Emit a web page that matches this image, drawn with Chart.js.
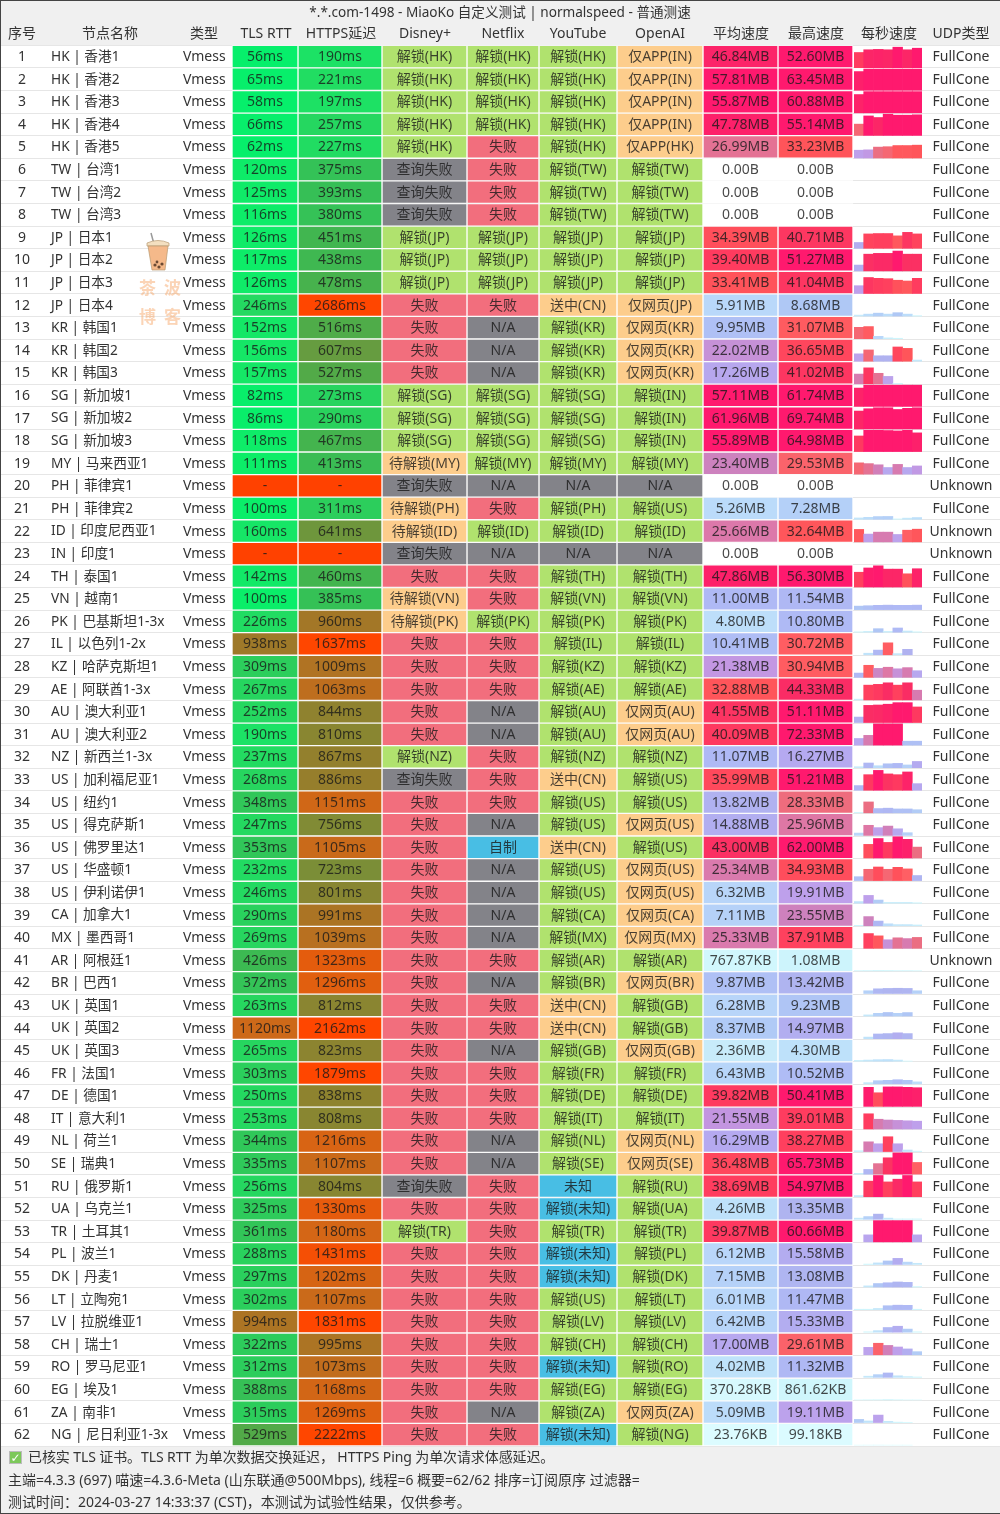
<!DOCTYPE html>
<html>
<head>
<meta charset="utf-8">
<title>MiaoKo normalspeed</title>
<script src="https://cdn.jsdelivr.net/npm/chart.js@4/dist/chart.umd.min.js"></script>
<style>
  html, body { margin: 0; padding: 0; background: #f0f0f0; }
  #page { position: relative; width: 1000px; height: 1514px; overflow: hidden; font-family: "Noto Sans", "Noto Sans CJK SC", sans-serif; color: #333; filter: blur(0.3px); }
  #page canvas { position: absolute; }
  #tableChart { left: 0; top: 0; }
  #speedChart { left: 854px; top: 46px; }
  .foot { position: absolute; left: 8px; font-size: 14px; line-height: 20px; white-space: nowrap; }
  .check { position: absolute; left: 9px; top: 1451px; width: 13px; height: 13px; background: #7cc85a; border: 1px solid #bbb; box-sizing: border-box; color: #fff; font: bold 12px/12px "DejaVu Sans"; text-align: center; }
  .stamp { position: absolute; font-size: 17px; font-weight: 700; line-height: 20px; color: rgba(248,170,110,.5); }
  #cup { position: absolute; left: 146px; top: 232px; }
  #frame { position: absolute; inset: 0; border: 1px solid #444; border-right: 0; box-sizing: border-box; pointer-events: none; }
</style>
</head>
<body>
<div id="page">
  <canvas id="tableChart" width="1000" height="1514"></canvas>
  <canvas id="speedChart" width="68" height="1400"></canvas>
  <svg id="cup" width="25" height="40" viewBox="0 0 25 40">
    <path d="M5 1 L8 12" stroke="#999" stroke-width="1.5" fill="none"/>
    <path d="M1 11 Q12 6 23 11 L23 14 L1 14 Z" fill="#f3dfc0" stroke="#b89a70" stroke-width=".7"/>
    <path d="M2 14 L22 14 L19 38 L6 38 Z" fill="#f5b98a" stroke="#b89a70" stroke-width=".7"/>
    <circle cx="9" cy="33" r="1.6" fill="#6b4a33"/><circle cx="13" cy="35" r="1.6" fill="#6b4a33"/><circle cx="16" cy="32" r="1.6" fill="#6b4a33"/><circle cx="11" cy="30" r="1.4" fill="#6b4a33"/>
  </svg>
  <span class="stamp" style="left:139px;top:278px">茶</span>
  <span class="stamp" style="left:164px;top:278px">波</span>
  <span class="stamp" style="left:139px;top:307px">博</span>
  <span class="stamp" style="left:164px;top:307px">客</span>
  <div class="check">✓</div>
  <div class="foot" style="left:28px;top:1447px;letter-spacing:-0.1px">已核实 TLS 证书。TLS RTT 为单次数据交换延迟， HTTPS Ping 为单次请求体感延迟。</div>
  <div class="foot" style="top:1470px">主端=4.3.3 (697) 喵速=4.3.6-Meta (山东联通@500Mbps), 线程=6 概要=62/62 排序=订阅原序 过滤器=</div>
  <div class="foot" style="top:1492px">测试时间：2024-03-27 14:33:37 (CST)，本测试为试验性结果，仅供参考。</div>
  <div id="frame"></div>
</div>
<script>
var chartTitle = '*.*.com-1498 - MiaoKo 自定义测试 | normalspeed - 普通测速';
var headers = ['序号', '节点名称', '类型', 'TLS RTT', 'HTTPS延迟', 'Disney+', 'Netflix', 'YouTube', 'OpenAI', '平均速度', '最高速度', '每秒速度', 'UDP类型'];

var nodeNames = [
  'HK | 香港1', 'HK | 香港2', 'HK | 香港3', 'HK | 香港4', 'HK | 香港5', 'TW | 台湾1', 'TW | 台湾2', 'TW | 台湾3',
  'JP | 日本1', 'JP | 日本2', 'JP | 日本3', 'JP | 日本4', 'KR | 韩国1', 'KR | 韩国2', 'KR | 韩国3',
  'SG | 新加坡1', 'SG | 新加坡2', 'SG | 新加坡3', 'MY | 马来西亚1', 'PH | 菲律宾1', 'PH | 菲律宾2', 'ID | 印度尼西亚1',
  'IN | 印度1', 'TH | 泰国1', 'VN | 越南1', 'PK | 巴基斯坦1-3x', 'IL | 以色列1-2x', 'KZ | 哈萨克斯坦1', 'AE | 阿联酋1-3x',
  'AU | 澳大利亚1', 'AU | 澳大利亚2', 'NZ | 新西兰1-3x', 'US | 加利福尼亚1', 'US | 纽约1', 'US | 得克萨斯1', 'US | 佛罗里达1',
  'US | 华盛顿1', 'US | 伊利诺伊1', 'CA | 加拿大1', 'MX | 墨西哥1', 'AR | 阿根廷1', 'BR | 巴西1', 'UK | 英国1', 'UK | 英国2',
  'UK | 英国3', 'FR | 法国1', 'DE | 德国1', 'IT | 意大利1', 'NL | 荷兰1', 'SE | 瑞典1', 'RU | 俄罗斯1', 'UA | 乌克兰1',
  'TR | 土耳其1', 'PL | 波兰1', 'DK | 丹麦1', 'LT | 立陶宛1', 'LV | 拉脱维亚1', 'CH | 瑞士1', 'RO | 罗马尼亚1', 'EG | 埃及1',
  'ZA | 南非1', 'NG | 尼日利亚1-3x'
];

// null = no result, drawn as "-"
var tlsRtt = [
  56, 65, 58, 66, 62, 120, 125, 116, 126, 117, 126, 246, 152, 156, 157, 82, 86, 118, 111, null, 100, 160, null, 142, 100, 226,
  938, 309, 267, 252, 190, 237, 268, 348, 247, 353, 232, 246, 290, 269, 426, 372, 263, 1120, 265, 303, 250, 253, 344, 335, 256,
  325, 361, 288, 297, 302, 994, 322, 312, 388, 315, 529
];
var httpsDelay = [
  190, 221, 197, 257, 227, 375, 393, 380, 451, 438, 478, 2686, 516, 607, 527, 273, 290, 467, 413, null, 311, 641, null, 460, 385, 960,
  1637, 1009, 1063, 844, 810, 867, 886, 1151, 756, 1105, 723, 801, 991, 1039, 1323, 1296, 812, 2162, 823, 1879, 838, 808, 1216, 1107, 804,
  1330, 1180, 1431, 1202, 1107, 1831, 995, 1073, 1168, 1269, 2222
];

var disney = [
  '解锁(HK)', '解锁(HK)', '解锁(HK)', '解锁(HK)', '解锁(HK)', '查询失败', '查询失败', '查询失败', '解锁(JP)', '解锁(JP)', '解锁(JP)',
  '失败', '失败', '失败', '失败', '解锁(SG)', '解锁(SG)', '解锁(SG)', '待解锁(MY)', '查询失败', '待解锁(PH)', '待解锁(ID)', '查询失败',
  '失败', '待解锁(VN)', '待解锁(PK)', '失败', '失败', '失败', '失败', '失败', '解锁(NZ)', '查询失败', '失败', '失败', '失败', '失败',
  '失败', '失败', '失败', '失败', '失败', '失败', '失败', '失败', '失败', '失败', '失败', '失败', '失败', '查询失败', '失败', '解锁(TR)',
  '失败', '失败', '失败', '失败', '失败', '失败', '失败', '失败', '失败'
];
var netflix = [
  '解锁(HK)', '解锁(HK)', '解锁(HK)', '解锁(HK)', '失败', '失败', '失败', '失败', '解锁(JP)', '解锁(JP)', '解锁(JP)', '失败',
  'N/A', 'N/A', 'N/A', '解锁(SG)', '解锁(SG)', '解锁(SG)', '解锁(MY)', 'N/A', '失败', '解锁(ID)', 'N/A', '失败', '失败', '解锁(PK)',
  '失败', '失败', '失败', 'N/A', 'N/A', '失败', '失败', '失败', 'N/A', '自制', 'N/A', 'N/A', 'N/A', 'N/A', '失败', 'N/A', '失败', '失败',
  'N/A', '失败', '失败', '失败', 'N/A', 'N/A', '失败', '失败', '失败', '失败', '失败', '失败', '失败', '失败', '失败', '失败', 'N/A', '失败'
];
var youtube = [
  '解锁(HK)', '解锁(HK)', '解锁(HK)', '解锁(HK)', '解锁(HK)', '解锁(TW)', '解锁(TW)', '解锁(TW)', '解锁(JP)', '解锁(JP)', '解锁(JP)',
  '送中(CN)', '解锁(KR)', '解锁(KR)', '解锁(KR)', '解锁(SG)', '解锁(SG)', '解锁(SG)', '解锁(MY)', 'N/A', '解锁(PH)', '解锁(ID)', 'N/A',
  '解锁(TH)', '解锁(VN)', '解锁(PK)', '解锁(IL)', '解锁(KZ)', '解锁(AE)', '解锁(AU)', '解锁(AU)', '解锁(NZ)', '送中(CN)', '解锁(US)',
  '解锁(US)', '送中(CN)', '解锁(US)', '解锁(US)', '解锁(CA)', '解锁(MX)', '解锁(AR)', '解锁(BR)', '送中(CN)', '送中(CN)', '解锁(GB)',
  '解锁(FR)', '解锁(DE)', '解锁(IT)', '解锁(NL)', '解锁(SE)', '未知', '解锁(未知)', '解锁(TR)', '解锁(未知)', '解锁(未知)', '解锁(US)',
  '解锁(LV)', '解锁(CH)', '解锁(未知)', '解锁(EG)', '解锁(ZA)', '解锁(未知)'
];
var openai = [
  '仅APP(IN)', '仅APP(IN)', '仅APP(IN)', '仅APP(IN)', '仅APP(HK)', '解锁(TW)', '解锁(TW)', '解锁(TW)', '解锁(JP)', '解锁(JP)', '解锁(JP)',
  '仅网页(JP)', '仅网页(KR)', '仅网页(KR)', '仅网页(KR)', '解锁(IN)', '解锁(IN)', '解锁(IN)', '解锁(MY)', 'N/A', '解锁(US)', '解锁(ID)', 'N/A',
  '解锁(TH)', '解锁(VN)', '解锁(PK)', '解锁(IL)', '解锁(KZ)', '解锁(AE)', '仅网页(AU)', '仅网页(AU)', '解锁(NZ)', '解锁(US)', '解锁(US)',
  '仅网页(US)', '解锁(US)', '仅网页(US)', '仅网页(US)', '仅网页(CA)', '仅网页(MX)', '解锁(AR)', '仅网页(BR)', '解锁(GB)', '解锁(GB)', '仅网页(GB)',
  '解锁(FR)', '解锁(DE)', '解锁(IT)', '仅网页(NL)', '仅网页(SE)', '解锁(RU)', '解锁(UA)', '解锁(TR)', '解锁(PL)', '解锁(DK)', '解锁(LT)',
  '解锁(LV)', '解锁(CH)', '解锁(RO)', '解锁(EG)', '仅网页(ZA)', '解锁(NG)'
];

var avgSpeed = [
  '46.84MB', '57.81MB', '55.87MB', '47.78MB', '26.99MB', '0.00B', '0.00B', '0.00B', '34.39MB', '39.40MB', '33.41MB', '5.91MB', '9.95MB', '22.02MB',
  '17.26MB', '57.11MB', '61.96MB', '55.89MB', '23.40MB', '0.00B', '5.26MB', '25.66MB', '0.00B', '47.86MB', '11.00MB', '4.80MB', '10.41MB', '21.38MB',
  '32.88MB', '41.55MB', '40.09MB', '11.07MB', '35.99MB', '13.82MB', '14.88MB', '43.00MB', '25.34MB', '6.32MB', '7.11MB', '25.33MB', '767.87KB', '9.87MB',
  '6.28MB', '8.37MB', '2.36MB', '6.43MB', '39.82MB', '21.55MB', '16.29MB', '36.48MB', '38.69MB', '4.26MB', '39.87MB', '6.12MB', '7.15MB', '6.01MB',
  '6.42MB', '17.00MB', '4.02MB', '370.28KB', '5.09MB', '23.76KB'
];
var maxSpeed = [
  '52.60MB', '63.45MB', '60.88MB', '55.14MB', '33.23MB', '0.00B', '0.00B', '0.00B', '40.71MB', '51.27MB', '41.04MB', '8.68MB', '31.07MB', '36.65MB',
  '41.02MB', '61.74MB', '69.74MB', '64.98MB', '29.53MB', '0.00B', '7.28MB', '32.64MB', '0.00B', '56.30MB', '11.54MB', '10.80MB', '30.72MB', '30.94MB',
  '44.33MB', '51.11MB', '72.33MB', '16.27MB', '51.21MB', '28.33MB', '25.96MB', '62.00MB', '34.93MB', '19.91MB', '23.55MB', '37.91MB', '1.08MB', '13.42MB',
  '9.23MB', '14.97MB', '4.30MB', '10.52MB', '50.41MB', '39.01MB', '38.27MB', '65.73MB', '54.97MB', '13.35MB', '60.66MB', '15.58MB', '13.08MB', '11.47MB',
  '15.33MB', '29.61MB', '11.32MB', '861.62KB', '19.11MB', '99.18KB'
];

var perSecond = [
  [39, 46, 47, 46, 52.6, 46, 50], [48, 57, 63, 58, 62, 58, 61], [47, 58, 60, 60, 59, 55, 60], [29, 50, 46, 55, 52, 52, 53],
  [20, 21, 28, 29, 32, 32, 33], [0, 0, 0, 0, 0, 0, 0], [0, 0, 0, 0, 0, 0, 0], [0, 0, 0, 0, 0, 0, 0],
  [15, 37, 38, 38, 32, 41, 37], [15, 43, 45, 45, 51, 43, 43], [20, 41, 39, 38, 34, 32, 39], [2.5, 5, 7.5, 5, 8.7, 5, 1],
  [29, 31, 6, 2, 1, 0, 0], [19, 29, 14, 14, 36.6, 33, 3], [25, 41, 27, 19, 1, 0, 0], [47, 60, 60, 60, 56, 58, 58],
  [46, 52, 56, 56, 50, 53, 57], [40, 55, 55, 54, 53, 55, 48], [29, 27, 24, 17, 25, 17, 21], [0, 0, 0, 0, 0, 0, 0],
  [3.5, 5, 7, 7.3, 1, 3, 4.5], [32, 20, 25, 25, 19, 30, 32.6], [0, 0, 0, 0, 0, 0, 0], [38, 49, 56, 46, 46, 34, 47],
  [9, 10, 11, 11.5, 11, 11, 11.5], [1, 2, 9, 2, 10.8, 3, 1], [0, 4, 12, 30.7, 3, 14, 0], [11, 31, 23, 26, 22, 25, 17],
  [2, 38, 40, 44, 38, 44, 25], [14, 44, 45, 47, 51, 51, 40], [17, 25, 70, 72, 60, 10, 10], [2.5, 12, 5, 10, 11, 7, 16],
  [12, 40, 51, 42, 40, 47, 17], [1, 28, 11, 12, 10, 10, 8], [6, 26, 20, 24, 17, 7, 0], [0, 35, 50, 40, 62, 48, 28],
  [10, 29, 34.9, 29, 34, 30, 13], [4, 19.9, 8, 2, 2, 2, 1], [1, 23.5, 12, 5, 3, 3, 2], [0, 37.9, 32, 22, 27, 25, 28],
  [0.7, 0.8, 1, 0.9, 0.7, 0.7, 0.5], [0, 7, 12, 13, 13.4, 13, 7], [0, 3, 7, 9.2, 7, 9, 0], [0, 4, 12, 13, 15, 13, 0],
  [2, 3, 4, 4.3, 3, 0.5, 0], [0, 3, 8, 9, 10.5, 9, 5], [0, 49, 35, 50, 50, 49, 48], [0, 39, 25, 23, 22, 21, 20],
  [2, 25, 20, 38, 20, 4, 1], [2, 12, 27, 42, 55, 65.7, 30], [3, 40, 55, 38, 45, 55, 38], [3, 7, 13.3, 3, 1, 1, 1],
  [0, 18, 56, 56, 60.6, 58, 18], [0, 1, 4, 9, 15.6, 6, 3], [0, 3, 9, 11, 13, 12, 1], [1, 1, 3, 10, 11.4, 11, 1],
  [0, 1, 4, 12, 15.3, 8, 1], [0, 19, 29.6, 24, 20, 15, 8], [0, 3, 7, 11.3, 4, 2, 1], [0.2, 0.4, 0.5, 0.86, 0.5, 0.2, 0.1],
  [8, 4, 19.1, 3, 1, 0.5, 0], [0.02, 0.05, 0.1, 0.03, 0.02, 0.01, 0]
];
var secondLabels = ['1', '2', '3', '4', '5', '6', '7'];
var unknownUdpRows = [20, 22, 23, 41];

// column edges in page pixels, the x scale runs 0..1000
var columnEdges = [232, 298, 382, 467, 539, 617, 703, 778, 853];
var headerCenters = [22, 110, 204, 266, 341, 425, 503, 578, 660, 741, 816, 889, 961];

var rowLabels = nodeNames.map(function (name, i) { return String(i + 1); });
var fontFamily = '"Noto Sans", "Noto Sans CJK SC", sans-serif';

var delayStops = [
  [0, [0, 240, 110]], [100, [10, 238, 105]], [200, [30, 225, 100]], [400, [55, 190, 85]], [500, [75, 175, 75]],
  [640, [110, 150, 60]], [950, [160, 120, 40]], [1120, [205, 105, 25]], [1300, [225, 95, 15]], [1500, [255, 70, 0]]
];
var speedStops = [
  [0, [220, 252, 255]], [1, [205, 245, 252]], [2.4, [200, 235, 250]], [4.3, [190, 225, 250]], [6, [185, 215, 250]],
  [8.7, [175, 200, 245]], [11, [175, 185, 245]], [13.4, [175, 180, 240]], [16, [180, 170, 240]], [20, [190, 160, 235]],
  [21.5, [195, 150, 225]], [23.4, [205, 130, 190]], [25.7, [220, 120, 170]], [28, [235, 110, 130]], [30, [255, 95, 100]],
  [33, [255, 85, 90]], [39, [255, 60, 95]], [44, [250, 45, 100]], [50, [255, 25, 110]]
];

function rampColor(stops, v) {
  if (v >= stops[stops.length - 1][0]) return 'rgb(' + stops[stops.length - 1][1].join(',') + ')';
  for (var i = 1; i < stops.length; i++) {
    if (v <= stops[i][0]) {
      var t = (v - stops[i - 1][0]) / (stops[i][0] - stops[i - 1][0]);
      var a = stops[i - 1][1], b = stops[i][1];
      return 'rgb(' + Math.round(a[0] + (b[0] - a[0]) * t) + ',' + Math.round(a[1] + (b[1] - a[1]) * t) + ',' + Math.round(a[2] + (b[2] - a[2]) * t) + ')';
    }
  }
}

function delayColor(ms) {
  return ms === null ? 'rgb(255,65,0)' : rampColor(delayStops, ms);
}

function toMegabytes(text) {
  var n = parseFloat(text);
  if (text.indexOf('MB') > 0) return n;
  if (text.indexOf('KB') > 0) return n / 1024;
  return 0;
}

function speedColor(mb) {
  return mb === 0 ? 'rgba(255,255,255,0)' : rampColor(speedStops, mb);
}

function unlockColor(text) {
  if (text === '失败') return 'rgb(242,110,125)';
  if (text === 'N/A' || text === '查询失败') return 'rgb(131,131,137)';
  if (text === '自制' || text.indexOf('未知') >= 0) return 'rgb(72,190,228)';
  if (text.indexOf('待解锁') === 0 || text.indexOf('送中') === 0 || text.indexOf('仅') === 0) return 'rgb(253,205,140)';
  return 'rgb(176,226,110)';
}

function delayText(ms) {
  return ms === null ? '-' : ms + 'ms';
}

// cell columns, in drawing order
var cellColumns = [
  { values: tlsRtt, color: delayColor, text: delayText },
  { values: httpsDelay, color: delayColor, text: delayText },
  { values: disney, color: unlockColor, text: String },
  { values: netflix, color: unlockColor, text: String },
  { values: youtube, color: unlockColor, text: String },
  { values: openai, color: unlockColor, text: String },
  { values: avgSpeed, color: function (s) { return speedColor(toMegabytes(s)); }, text: String },
  { values: maxSpeed, color: function (s) { return speedColor(toMegabytes(s)); }, text: String }
];

var cellDatasets = cellColumns.map(function (col, c) {
  return {
    data: col.values.map(function () { return [columnEdges[c], columnEdges[c + 1]]; }),
    backgroundColor: col.values.map(col.color),
    borderColor: 'rgba(255,255,255,0.7)',
    borderWidth: 1,
    borderSkipped: false
  };
});

// Draws the white background and the text of every row
var cellTextPlugin = {
  id: 'cellText',
  beforeDraw: function (chart) {
    var a = chart.chartArea;
    chart.ctx.fillStyle = '#fff';
    chart.ctx.fillRect(a.left, a.top, a.right - a.left, a.bottom - a.top);
  },
  afterDatasetsDraw: function (chart) {
    var ctx = chart.ctx, x = chart.scales.x, y = chart.scales.y;
    ctx.save();
    ctx.textBaseline = 'middle';
    rowLabels.forEach(function (label, r) {
      var py = y.getPixelForValue(r) + 0.5;
      ctx.font = '14px ' + fontFamily;
      ctx.fillStyle = '#333';
      ctx.textAlign = 'center';
      ctx.fillText(label, x.getPixelForValue(22), py);
      ctx.fillText(unknownUdpRows.indexOf(r + 1) >= 0 ? 'Unknown' : 'FullCone', x.getPixelForValue(961), py);
      ctx.textAlign = 'left';
      ctx.fillText('Vmess', x.getPixelForValue(183), py);
      ctx.font = '13.7px ' + fontFamily;
      ctx.fillText(nodeNames[r], x.getPixelForValue(51), py);
      ctx.font = '14px ' + fontFamily;
      ctx.textAlign = 'center';
      ctx.fillStyle = 'rgba(25,25,25,0.8)';
      cellColumns.forEach(function (col, c) {
        var cx = (columnEdges[c] + columnEdges[c + 1]) / 2;
        ctx.fillText(col.text(col.values[r]), x.getPixelForValue(cx), py);
      });
    });
    ctx.restore();
  }
};

new Chart(document.getElementById('tableChart'), {
  type: 'bar',
  data: { labels: rowLabels, datasets: cellDatasets },
  options: {
    indexAxis: 'y',
    responsive: false,
    animation: false,
    events: [],
    layout: { padding: { bottom: 68 } },
    datasets: { bar: { grouped: false, barPercentage: 1, categoryPercentage: 1 } },
    plugins: {
      legend: { display: false },
      tooltip: { enabled: false },
      title: {
        display: true,
        text: chartTitle,
        color: '#333',
        font: { family: fontFamily, size: 13.6, weight: 'normal' },
        padding: { top: 5, bottom: 0 }
      }
    },
    scales: {
      x: {
        type: 'linear',
        position: 'top',
        min: 0,
        max: 1000,
        border: { display: false },
        grid: { display: false, drawTicks: false },
        afterFit: function (scale) { scale.height = 24; },
        afterBuildTicks: function (scale) {
          scale.ticks = headerCenters.map(function (v) { return { value: v }; });
        },
        ticks: {
          autoSkip: false,
          maxRotation: 0,
          padding: 3,
          color: '#333',
          font: { family: fontFamily, size: 14 },
          callback: function (value) { return headers[headerCenters.indexOf(value)]; }
        }
      },
      y: {
        border: { display: false },
        grid: { color: '#e6e6e6', drawTicks: false },
        ticks: { display: false },
        afterFit: function (scale) { scale.width = 0; }
      }
    }
  },
  plugins: [cellTextPlugin]
});

// Each row is one dataset of floating bars, hanging on the bottom edge of its row
var rowScaleMB = 58;
var rowGap = 0.04;
var speedDatasets = perSecond.map(function (speeds, r) {
  return {
    data: speeds.map(function (mb) { return [r + 1 - rowGap, r + 1 - rowGap - Math.min(mb / rowScaleMB, 0.94)]; }),
    backgroundColor: speeds.map(speedColor),
    borderWidth: 0
  };
});

new Chart(document.getElementById('speedChart'), {
  type: 'bar',
  data: { labels: secondLabels, datasets: speedDatasets },
  options: {
    responsive: false,
    animation: false,
    events: [],
    datasets: { bar: { grouped: false, barPercentage: 1, categoryPercentage: 1 } },
    plugins: { legend: { display: false }, tooltip: { enabled: false } },
    scales: {
      x: { display: false },
      y: { display: false, reverse: true, min: 0, max: nodeNames.length }
    }
  }
});
</script>
</body>
</html>
